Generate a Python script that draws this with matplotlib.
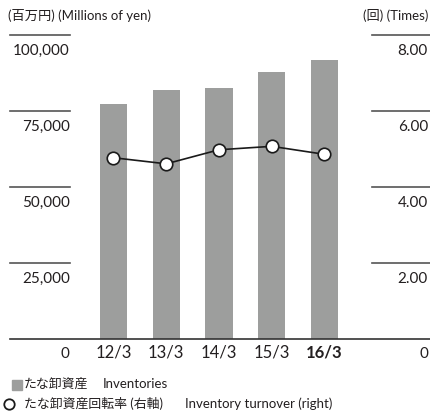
import matplotlib
matplotlib.use("Agg")
import matplotlib.pyplot as plt
import matplotlib.transforms as mtransforms

categories = ["12/3", "13/3", "14/3", "15/3", "16/3"]
inventories = [77300, 81900, 82600, 87800, 91800]
turnover = [4.77, 4.61, 4.98, 5.07, 4.86]
left_ticks = [25000, 50000, 75000, 100000]
left_labels = ["25,000", "50,000", "75,000", "100,000"]
right_ticks = [2.0, 4.0, 6.0, 8.0]
right_labels = ["2.00", "4.00", "6.00", "8.00"]

W, H = 430, 412
FONT = ["Lato", "Noto Sans CJK JP", "DejaVu Sans"]
TXT = "#231f20"
BAR = "#9d9e9d"

fig = plt.figure(figsize=(W / 100, H / 100), dpi=100)
ax = fig.add_axes([10 / W, (H - 339) / H, 420 / W, 304 / H])
ax.set_xlim(-1.962, 6.0)
ax.set_ylim(0, 100000)
ax.axis("off")

x = list(range(len(categories)))
ax.bar(x, inventories, width=0.512, color=BAR, zorder=2)

ax2 = ax.twinx()
ax2.set_ylim(0, 8.0)
ax2.axis("off")
ax2.plot(x, turnover, color="#1a1a1a", lw=1.2, marker="o", ms=9,
         mfc="white", mec="#1a1a1a", mew=1.2, zorder=3)

# baseline
ax.axhline(0, color="#333333", lw=1.2, clip_on=False, zorder=4)

off = mtransforms.ScaledTranslation(0, -15.5 / 100, fig.dpi_scale_trans)

# left tick lines and labels
tr = mtransforms.blended_transform_factory(ax.transAxes, ax.transData)
for v, lab in zip(left_ticks, left_labels):
    ax.axhline(v, xmin=0, xmax=60 / 420, color="#555555", lw=1.2, clip_on=False)
    ax.text(60 / 420, v, lab, transform=tr + off,
            ha="right", va="center", fontsize=11, color=TXT, family=FONT)
ax.text(59 / 420, 0, "0", transform=tr + off,
        ha="right", va="center", fontsize=11, color=TXT, family=FONT)

tr2 = mtransforms.blended_transform_factory(ax2.transAxes, ax2.transData)
for v, lab in zip(right_ticks, right_labels):
    ax2.axhline(v, xmin=362 / 420, xmax=1, color="#555555", lw=1.2, clip_on=False)
    ax2.text(1 - 2 / 420, v, lab, transform=tr2 + off,
             ha="right", va="center", fontsize=11, color=TXT, family=FONT)
ax2.text(1 - 2 / 420, 0, "0", transform=tr2 + off,
         ha="right", va="center", fontsize=11, color=TXT, family=FONT)

# category labels
trc = mtransforms.blended_transform_factory(ax.transData, ax.transAxes)
offc = mtransforms.ScaledTranslation(0, -14 / 100, fig.dpi_scale_trans)
for i, c in enumerate(categories):
    ax.text(i, 0, c, transform=trc + offc,
            ha="center", va="center", fontsize=12, color=TXT, family=FONT,
            fontweight="bold" if i == len(categories) - 1 else "normal")

# unit labels
fig.text(8 / W, 1 - 16 / H, "(百万円) (Millions of yen)", ha="left", va="center",
         fontsize=9.5, color=TXT, family=FONT)
fig.text(428 / W, 1 - 16 / H, "(回) (Times)", ha="right", va="center",
         fontsize=9.5, color=TXT, family=FONT)

# legend
fig.patches.append(plt.Rectangle((12 / W, 1 - 390 / H), 10 / W, 10 / H,
                                 transform=fig.transFigure, color=BAR))
fig.text(24 / W, 1 - 384 / H, "たな卸資産", ha="left", va="center",
         fontsize=9.3, color=TXT, family=FONT)
fig.text(103 / W, 1 - 384 / H, "Inventories", ha="left", va="center",
         fontsize=9.5, color=TXT, family=FONT)
fig.add_artist(plt.Line2D([8.7 / W], [1 - 404 / H], marker="o", ms=7.5, mfc="white",
                          mec="#1a1a1a", mew=1.3, transform=fig.transFigure))
fig.text(24 / W, 1 - 404 / H, "たな卸資産回転率 (右軸)",
         ha="left", va="center", fontsize=9.3, color=TXT, family=FONT)
fig.text(185 / W, 1 - 404 / H, "Inventory turnover (right)",
         ha="left", va="center", fontsize=9.5, color=TXT, family=FONT)

fig.savefig("out.png", dpi=100)
